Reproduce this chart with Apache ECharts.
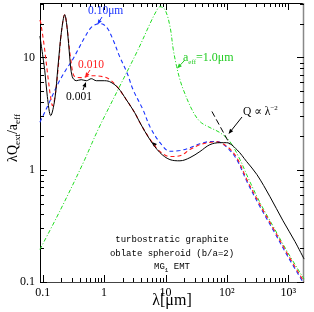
<!DOCTYPE html>
<html><head><meta charset="utf-8">
<script src="https://cdn.jsdelivr.net/npm/echarts@6/dist/echarts.min.js"></script>
<style>html,body{margin:0;padding:0;background:#fff}#c{width:314px;height:312px}</style>
</head><body><div id="c"></div>
<script>
// ---- data (wavelength in micron, lambda*Qext/aeff) ----
const lam001 = [0.09,0.108,0.119,0.135,0.157,0.177,0.201,0.228,0.252,0.275,0.303,0.352,0.425,0.513,0.619,0.747,0.96,1.23,1.68,2.30,3.15,3.84,5.58,8.11,11.8,17.2,25.0,36.3,52.8,76.9,99,145,210,309,503,820,1286,1810];
const val001 = [15.5,7.6,4.47,3.03,4.20,8.26,16.6,24.0,17.6,10.1,6.73,6.20,6.33,6.20,6.46,6.20,6.20,6.08,5.37,4.20,3.22,2.62,1.85,1.42,1.23,1.20,1.28,1.45,1.67,1.74,1.74,1.51,1.18,0.903,0.575,0.351,0.229,0.160];

const lam010 = [0.09,0.0927,0.105,0.1233,0.134,0.1445,0.1585,0.1807,0.201,0.228,0.252,0.284,0.332,0.425,0.619,0.96,1.25,1.68,2.30,3.15,3.84,5.58,8.15,11.8,17.2,25.0,36.3,52.8,68.2,99.4,145,212,346,563,988,1810];
const val010 = [21.5,20.4,12.97,6.33,4.47,3.72,4.47,8.61,16.6,24.0,17.6,9.94,6.73,6.60,6.87,6.73,6.33,5.37,4.20,3.22,2.62,1.87,1.45,1.31,1.33,1.51,1.67,1.75,1.77,1.62,1.28,0.814,0.488,0.304,0.175,0.100];

const lam100 = [0.09,0.109,0.1365,0.1775,0.2395,0.300,0.376,0.490,0.612,0.766,0.890,1.114,1.396,1.80,2.36,2.96,4.30,5.59,8.14,11.8,17.2,25.1,36.5,53.1,68.2,99.4,145,212,346,563,988,1810];
const val100 = [2.65,3.29,4.29,5.83,7.77,9.35,11.7,15.3,18.4,19.8,19.95,18.4,14.4,10.1,7.31,5.16,3.42,2.41,1.74,1.46,1.48,1.57,1.70,1.78,1.78,1.585,1.23,0.782,0.468,0.292,0.168,0.096];

const lam1000 = [0.09,0.1913,0.458,0.796,1.684,3.565,5.59,7.00,8.14,9.81,11.84,13.4,15.2,17.2,19.5,27.0,36.5,53.1,76.9,112,163.5,221,346,563,988,1810];
const val1000 = [0.195,0.431,1.154,2.27,5.16,11.7,19.95,25.5,28.3,26.6,18.8,11.7,8.26,6.33,5.16,3.42,2.68,2.37,2.14,1.78,1.23,0.849,0.510,0.315,0.182,0.106];

// Q ∝ λ^-2 guide (λQ ∝ λ^-1)
const lamSlope = [57, 112];
const valSlope = [3.30, 1.68];

const xTickValues = [0.1, 1, 10, 100, 1000];
const xTickText = ['0.1', '1', '10', '10²', '10³'];
const yTickValues = [0.1, 1, 10];
const yTickText = ['0.1', '1', '10'];

const xMin = 0.0903, xMax = 1803, yMin = 0.1, yMax = 30.5;

// ---- chart ----
const serif = "'Liberation Serif','DejaVu Serif',serif";
const mono = "'Liberation Mono','DejaVu Sans Mono',monospace";
function pairs(a, b) { return a.map((v, i) => [v, b[i]]); }
function fmt(vals, texts) {
  return function (v) {
    const i = vals.findIndex(t => Math.abs(Math.log10(t) - Math.log10(v)) < 1e-6);
    return i >= 0 ? texts[i] : '';
  };
}
const chart = echarts.init(document.getElementById('c'), null, {renderer: 'canvas', width: 314, height: 312});
const G = {left: 40, right: 10, top: 3, bottom: 30};
chart.setOption({
  animation: false,
  backgroundColor: '#fff',
  grid: {left: G.left, right: G.right, top: G.top, bottom: G.bottom, containLabel: false},
  xAxis: {
    type: 'log', logBase: 10, min: xMin, max: xMax,
    axisLine: {show: false}, axisTick: {show: false}, splitLine: {show: false},
    axisLabel: {show: true, interval: 0, margin: 5, color: '#000', fontSize: 12, fontFamily: serif, formatter: fmt(xTickValues, xTickText), showMinLabel: true, showMaxLabel: true}
  },
  yAxis: {
    type: 'log', logBase: 10, min: yMin, max: yMax,
    axisLine: {show: false}, axisTick: {show: false}, splitLine: {show: false},
    axisLabel: {show: true, interval: 0, margin: 5, color: '#000', fontSize: 12, fontFamily: serif, formatter: fmt(yTickValues, yTickText), showMinLabel: true, showMaxLabel: true}
  },
  series: [
    {type: 'line', data: pairs(lam1000, val1000), smooth: 0.35, symbol: 'none', clip: true,
     lineStyle: {color: '#22dd22', width: 1, type: [4, 2, 1, 2]}},
    {type: 'line', data: pairs(lam100, val100), smooth: 0.35, symbol: 'none', clip: true,
     lineStyle: {color: '#1a33ff', width: 1.1, type: [4, 3]}},
    {type: 'line', data: pairs(lam010, val010), smooth: 0.35, symbol: 'none', clip: true,
     lineStyle: {color: '#ff1a1a', width: 1.1, type: [4, 3]}},
    {type: 'line', data: pairs(lam001, val001), smooth: 0.35, symbol: 'none', clip: true,
     lineStyle: {color: '#000', width: 1}},
    {type: 'line', data: pairs(lamSlope, valSlope), symbol: 'none', clip: true,
     lineStyle: {color: '#000', width: 1, type: [6, 3]}}
  ]
});

// ---- frame, ticks, titles, annotations ----
const g = [];
const L = G.left, R = 314 - G.right, T = G.top, B = 312 - G.bottom;
function ln(x1, y1, x2, y2, color, w) {
  g.push({type: 'line', silent: true, shape: {x1, y1, x2, y2}, style: {stroke: color || '#000', lineWidth: w || 1}});
}
ln(L + 0.5, T, L + 0.5, B, '#000', 1);
ln(L, T + 0.5, R, T + 0.5, '#000', 1);
ln(L, B + 0.5, R, B + 0.5, '#444', 1);
ln(R - 0.5, T, R - 0.5, B + 1, '#888', 1.5);
// x ticks
for (let d = -2; d <= 3; d++) for (let m = 1; m <= 9; m++) {
  const v = m * Math.pow(10, d);
  if (v < xMin || v > xMax) continue;
  const px = Math.round(chart.convertToPixel({xAxisIndex: 0}, v)) + 0.5;
  const len = m === 1 ? 7 : 4;
  ln(px, B, px, B - len, '#000', 1);
  ln(px, T, px, T + len, '#000', 1);
}
// y ticks
for (let d = -1; d <= 1; d++) for (let m = 1; m <= 9; m++) {
  const v = m * Math.pow(10, d);
  if (v < yMin || v > yMax) continue;
  const py = Math.round(chart.convertToPixel({yAxisIndex: 0}, v)) + 0.5;
  const len = m === 1 ? 7 : 4;
  ln(L, py, L + len, py, '#000', 1);
  ln(R, py, R - len, py, '#000', 1);
}
function txt(x, y, text, rich, align, extra) {
  const o = {type: 'text', x, y, silent: true, style: Object.assign({text, rich, align: align || 'left', verticalAlign: 'middle', fill: '#000'}, extra || {})};
  g.push(o);
  return o;
}
function richSet(color, size, family) {
  return {
    n: {fontSize: size, fontFamily: family, fill: color, lineHeight: size + 4},
    s: {fontSize: Math.round(size * 0.62), fontFamily: family, fill: color, verticalAlign: 'bottom'},
    p: {fontSize: Math.round(size * 0.62), fontFamily: family, fill: color, verticalAlign: 'top'}
  };
}
function arrow(x1, y1, x2, y2, color, headOnly) {
  const dx = x2 - x1, dy = y2 - y1, len = Math.hypot(dx, dy), ux = dx / len, uy = dy / len;
  const hl = 5, hw = 2;
  const bx = x2 - ux * hl, by = y2 - uy * hl;
  if (!headOnly) ln(x1, y1, bx, by, color, 1);
  g.push({type: 'polygon', silent: true, shape: {points: [[x2, y2], [bx - uy * hw, by + ux * hw], [bx + uy * hw, by - ux * hw]]}, style: {fill: color}});
}
// axis titles
const yt = txt(13, 138, '{n|λQ}{s|ext}{n|/a}{s|eff}', richSet('#000', 14, serif), 'center');
yt.rotation = Math.PI / 2;
txt(172, 301, '{n|λ[μm]}', richSet('#000', 16, serif), 'center');
// curve labels
txt(88, 11, '{n|0.10μm}', richSet('#1a33ff', 11.5, serif));
arrow(102, 17, 97.5, 24.5, '#1a33ff');
txt(78, 64.5, '{n|0.010}', richSet('#ff1a1a', 11.5, serif));
arrow(90, 70, 85, 77.5, '#ff1a1a');
txt(66, 97, '{n|0.001}', richSet('#000', 11.5, serif));
arrow(83, 90, 86, 82, '#000');
txt(183, 57.5, '{n|a}{s|eff}{n|=1.0μm}', richSet('#22cc22', 12, serif));
arrow(184, 61, 177, 68.5, '#22cc22');
txt(243, 112, '{n|Q ∝ λ}{p|−2}', richSet('#000', 11.5, serif));
arrow(242, 117, 228.5, 134, '#000');
arrow(157, 147, 152, 142, '#000', true);
// description block
txt(172, 240, '{n|turbostratic graphite}', richSet('#000', 9, mono), 'center');
txt(172, 254, '{n|oblate spheroid (b/a=2)}', richSet('#000', 9, mono), 'center');
txt(172, 267, '{n|MG}{s|1}{n| EMT}', richSet('#000', 9, mono), 'center');

chart.setOption({graphic: {elements: g}});
</script>
</body></html>
